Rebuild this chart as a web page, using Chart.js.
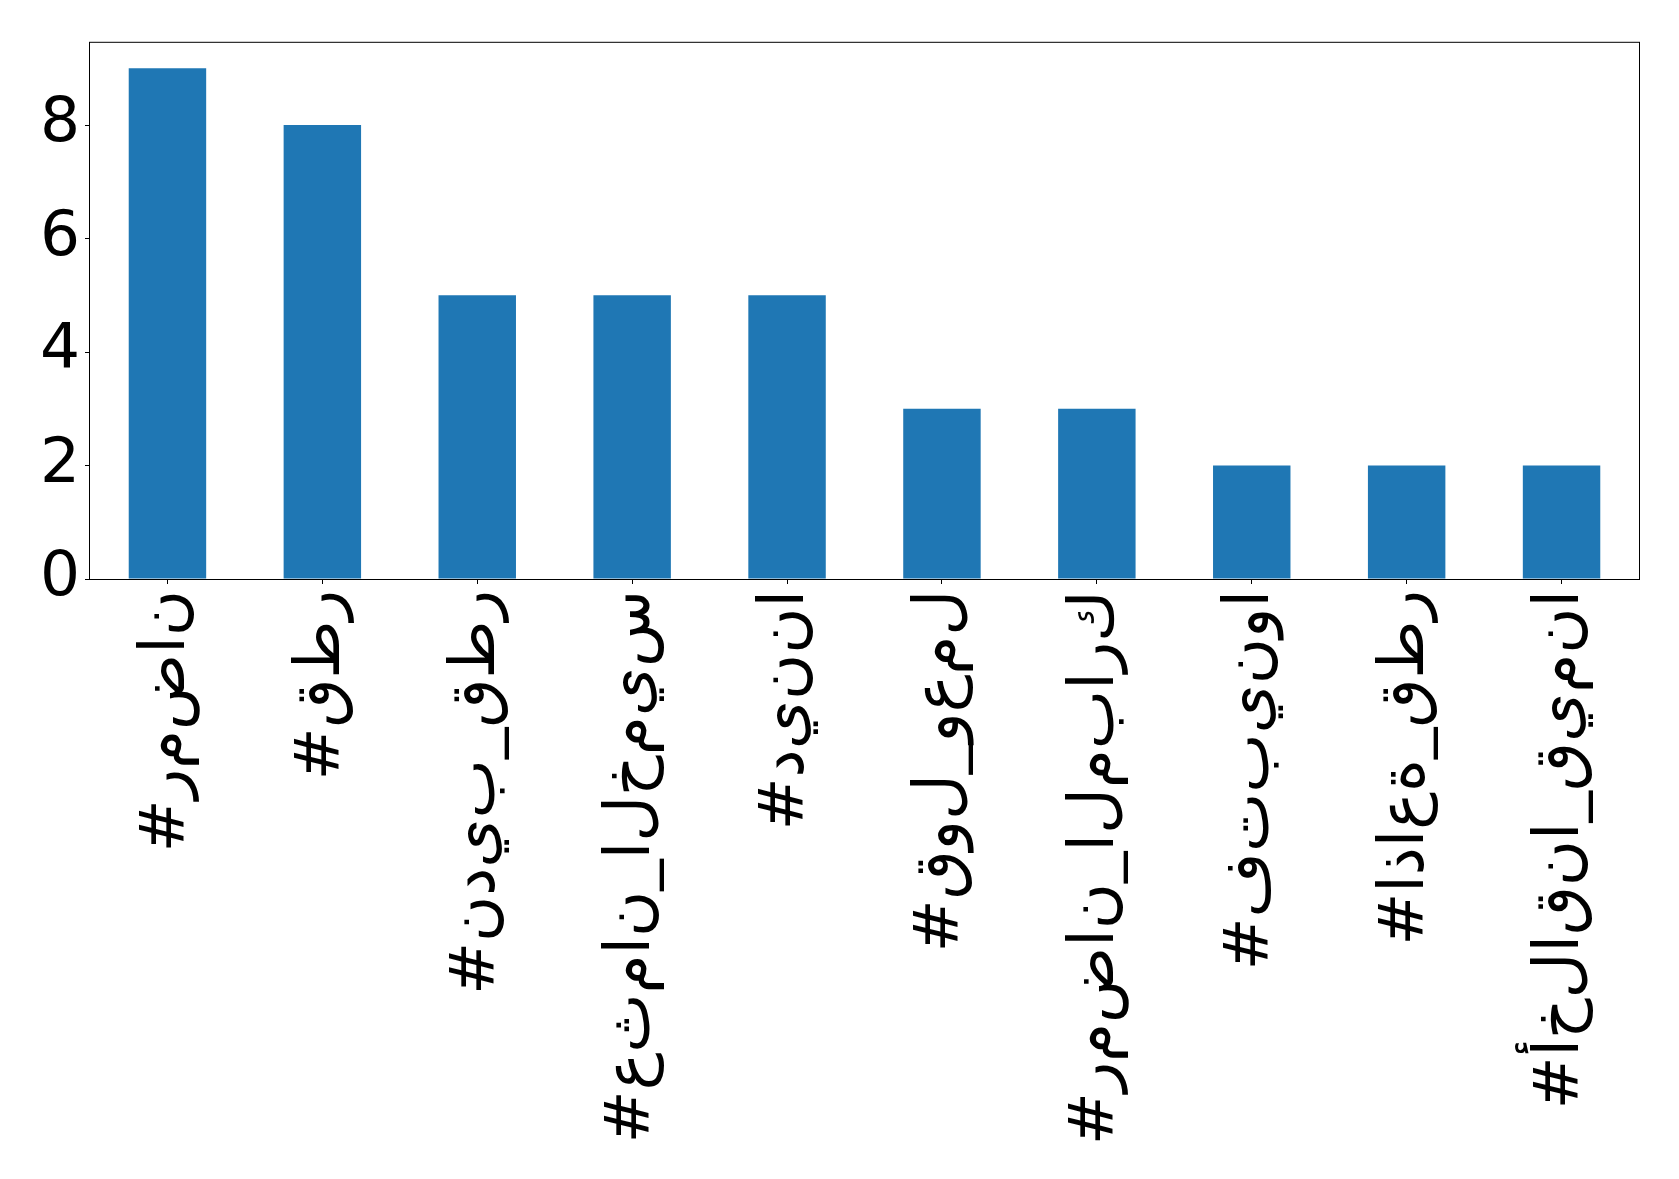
<!DOCTYPE html>
<html>
<head>
<meta charset="utf-8">
<script src="https://cdn.jsdelivr.net/npm/chart.js@4.4.1/dist/chart.umd.min.js"></script>
<style>
  body { margin: 0; background: #fff; }
</style>
</head>
<body>
<canvas id="hashtagChart" width="1679" height="1179"></canvas>
<script>
const hashtags = [
  "#رمضان",
  "#قطر",
  "#نديب_قطر",
  "#عثمان_الخميس",
  "#ديننا",
  "#قول_وعمل",
  "#رمضان_المبارك",
  "#فتبينوا",
  "#اذاعة_قطر",
  "#أخلاقنا_قيمنا",
];
const counts = [9, 8, 5, 5, 5, 3, 3, 2, 2, 2];
const yTicks = [0, 2, 4, 6, 8];
const yMax = 9.45;

// matplotlib draws the letters unshaped, left to right
function unshaped(s) {
  return "\u202D" + Array.from(s).join("\u200C") + "\u202C";
}

// top + right spines
const frame = {
  id: "frame",
  afterDraw(chart) {
    const { ctx, chartArea: a } = chart;
    ctx.save();
    ctx.strokeStyle = "#000";
    ctx.lineWidth = 1;
    ctx.strokeRect(a.left - 0.5, a.top - 0.5, a.right - a.left + 1, a.bottom - a.top + 1);
    ctx.restore();
  },
};

const font = { family: "'DejaVu Sans'", size: 63 };

new Chart(document.getElementById("hashtagChart").getContext("2d"), {
  type: "bar",
  data: {
    labels: hashtags,
    datasets: [
      {
        data: counts,
        backgroundColor: "#1f77b4",
        categoryPercentage: 1,
        barPercentage: 0.5,
      },
    ],
  },
  options: {
    responsive: false,
    animation: false,
    layout: { padding: { top: 41, right: 40, left: 0, bottom: 0 } },
    plugins: {
      legend: { display: false },
      tooltip: { enabled: false },
    },
    scales: {
      x: {
        offset: true,
        border: { display: false },
        grid: { offset: false, drawOnChartArea: false, tickLength: 5, color: "#000" },
        ticks: {
          autoSkip: false,
          minRotation: 90,
          maxRotation: 90,
          padding: 6,
          color: "#000",
          font,
          callback(value) {
            return unshaped(this.getLabelForValue(value));
          },
        },
        afterFit(scale) {
          scale.height = 600;
        },
      },
      y: {
        min: 0,
        max: yMax,
        border: { display: false },
        grid: { drawOnChartArea: false, tickLength: 5, color: "#000" },
        ticks: { stepSize: 2, padding: 5, color: "#000", font },
        afterBuildTicks(scale) {
          scale.ticks = yTicks.map((v) => ({ value: v }));
        },
        afterFit(scale) {
          scale.width = 90;
        },
      },
    },
  },
  plugins: [frame],
});
</script>
</body>
</html>
